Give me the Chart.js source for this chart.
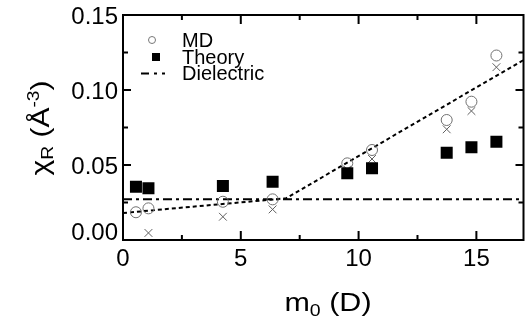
<!DOCTYPE html>
<html lang="en">
<head>
  <meta charset="utf-8">
  <title>Chi_R vs m0</title>
  <script src="https://cdn.jsdelivr.net/npm/chart.js"></script>
  <style>
    html, body { margin: 0; padding: 0; background: #fff; }
    .chart-box { position: relative; width: 532px; height: 324px; }
  </style>
</head>
<body>
  <div class="chart-box"><canvas id="chiChart"></canvas></div>

  <script>
    // values
    const dipoleMoments = [0.55, 1.08, 4.24, 6.35, 9.52, 10.57, 13.74, 14.79, 15.85];
    const mdValues      = [0.0185, 0.0211, 0.0255, 0.0271, 0.0511, 0.0600, 0.0800, 0.0922, 0.1230];
    const mdCrossValues = [null, 0.0047, 0.0155, 0.0204, 0.0470, 0.0540, 0.0738, 0.0860, 0.1152];
    const theoryValues  = [0.0355, 0.0345, 0.0360, 0.0389, 0.0445, 0.0478, 0.0582, 0.0618, 0.0655];

    const fitX = [0, 6.92, 17];
    const fitY = [0.0180, 0.0278, 0.1200];
    const dielectricX = [0, 17];
    const dielectricY = [0.0271, 0.0271];

    const xTicks = [0, 5, 10, 15];
    const xTickLabels = ['0', '5', '10', '15'];
    const xMinorTicks = [2.5, 7.5, 12.5];
    const yTicks = [0, 0.05, 0.10, 0.15];
    const yTickLabels = ['0.00', '0.05', '0.10', '0.15'];
    const yMinorTicks = [0.025, 0.075, 0.125];

    const FONT = '"Liberation Sans", Arial, Helvetica, sans-serif';

    function toPoints(xs, ys) {
      return xs.map((x, i) => ({ x: x, y: ys[i] })).filter(p => p.y !== null);
    }

    // frame, inward ticks, tick labels, axis titles and legend
    const framePlugin = {
      id: 'frame',
      afterDraw(chart) {
        const ctx = chart.ctx;
        const a = chart.chartArea;
        const xs = chart.scales.x, ys = chart.scales.y;
        ctx.save();
        ctx.strokeStyle = '#000';
        ctx.lineWidth = 2;
        ctx.strokeRect(a.left, a.top, a.right - a.left, a.bottom - a.top);

        ctx.beginPath();
        const xt = (vals, len) => vals.forEach(v => {
          const px = xs.getPixelForValue(v);
          ctx.moveTo(px, a.bottom); ctx.lineTo(px, a.bottom - len);
          ctx.moveTo(px, a.top); ctx.lineTo(px, a.top + len);
        });
        const yt = (vals, len) => vals.forEach(v => {
          const py = ys.getPixelForValue(v);
          ctx.moveTo(a.left, py); ctx.lineTo(a.left + len, py);
          ctx.moveTo(a.right, py); ctx.lineTo(a.right - len, py);
        });
        xt(xTicks, 9); xt(xMinorTicks, 5);
        yt(yTicks, 8); yt(yMinorTicks, 5);
        ctx.stroke();

        // tick labels
        ctx.fillStyle = '#000';
        ctx.font = '24px ' + FONT;
        ctx.textAlign = 'center';
        ctx.textBaseline = 'alphabetic';
        xTicks.forEach((v, i) => {
          ctx.fillText(xTickLabels[i], xs.getPixelForValue(v), a.bottom + 26);
        });
        ctx.textAlign = 'right';
        yTicks.forEach((v, i) => {
          let py = ys.getPixelForValue(v) + 8.5;
          if (v === 0) py -= 9;
          ctx.fillText(yTickLabels[i], a.left - 5, py);
        });

        // titles are a bit wider than the plain font, so stretch along the text
        const drawPieces = (pieces, cx, cy, stretch) => {
          ctx.save();
          ctx.translate(cx, cy);
          ctx.scale(stretch, 1);
          let w = 0;
          pieces.forEach(p => { ctx.font = p.size + 'px ' + FONT; w += ctx.measureText(p.t).width; });
          let x = -w / 2;
          ctx.textAlign = 'left';
          pieces.forEach(p => {
            ctx.font = p.size + 'px ' + FONT;
            ctx.fillText(p.t, x, p.dy);
            x += ctx.measureText(p.t).width;
          });
          ctx.restore();
        };
        drawPieces([
          { t: 'm', size: 25, dy: 0 },
          { t: '0', size: 16, dy: 5 },
          { t: ' (D)', size: 25, dy: 0 }
        ], 328, 311, 1.22);

        ctx.save();
        ctx.translate(49, 128);
        ctx.rotate(-Math.PI / 2);
        drawPieces([
          { t: 'χ', size: 25, dy: 0 },
          { t: 'R', size: 16, dy: 4 },
          { t: ' (Å', size: 25, dy: 0 },
          { t: '-3', size: 16, dy: -10 },
          { t: ')', size: 25, dy: 0 }
        ], 0, 0, 1.2);
        ctx.restore();

        // legend
        ctx.font = '20px ' + FONT;
        ctx.textAlign = 'left';
        ctx.textBaseline = 'middle';
        ctx.fillStyle = '#000';
        ctx.fillText('MD', 182, 41);
        ctx.fillText('Theory', 182, 58);
        ctx.fillText('Dielectric', 182, 74);

        ctx.strokeStyle = '#777';
        ctx.lineWidth = 1;
        ctx.beginPath();
        ctx.arc(152, 40, 3.5, 0, Math.PI * 2);
        ctx.stroke();

        ctx.fillStyle = '#000';
        ctx.fillRect(152, 53, 8, 8);

        ctx.strokeStyle = '#000';
        ctx.lineWidth = 2;
        ctx.setLineDash([8, 5, 3, 5, 3, 20]);
        ctx.beginPath();
        ctx.moveTo(141, 73.5);
        ctx.lineTo(166, 73.5);
        ctx.stroke();
        ctx.restore();
      }
    };

    new Chart(document.getElementById('chiChart'), {
      type: 'scatter',
      data: {
        datasets: [
          {
            label: 'Theory',
            data: toPoints(dipoleMoments, theoryValues),
            pointStyle: 'rect',
            pointRadius: 8.5,
            backgroundColor: '#000',
            borderColor: '#000',
            borderWidth: 0,
            order: 0
          },
          {
            label: 'MD',
            data: toPoints(dipoleMoments, mdValues),
            pointStyle: 'circle',
            pointRadius: 5.5,
            backgroundColor: 'rgba(0,0,0,0)',
            borderColor: '#707070',
            borderWidth: 1,
            order: 1
          },
          {
            label: 'MD (x)',
            data: toPoints(dipoleMoments, mdCrossValues),
            pointStyle: 'crossRot',
            pointRadius: 5.5,
            borderColor: '#606060',
            borderWidth: 1,
            order: 2
          },
          {
            label: 'Fit',
            data: toPoints(fitX, fitY),
            showLine: true,
            pointRadius: 0,
            borderColor: '#000',
            borderWidth: 2,
            borderDash: [4, 3],
            order: 3
          },
          {
            label: 'Dielectric',
            data: toPoints(dielectricX, dielectricY),
            showLine: true,
            pointRadius: 0,
            borderColor: '#000',
            borderWidth: 2,
            borderDash: [9, 4, 3, 4],
            order: 4
          }
        ]
      },
      options: {
        responsive: true,
        maintainAspectRatio: false,
        animation: false,
        layout: { padding: { top: 15, right: 6, left: 0, bottom: 0 } },
        plugins: {
          legend: { display: false },
          tooltip: { enabled: false }
        },
        scales: {
          x: {
            type: 'linear',
            min: 0,
            max: 17,
            grid: { display: false },
            border: { display: false },
            ticks: { display: false },
            afterFit: s => { s.height = 84; }
          },
          y: {
            type: 'linear',
            min: 0,
            max: 0.15,
            grid: { display: false },
            border: { display: false },
            ticks: { display: false },
            afterFit: s => { s.width = 123; }
          }
        }
      },
      plugins: [framePlugin]
    });
  </script>
</body>
</html>
